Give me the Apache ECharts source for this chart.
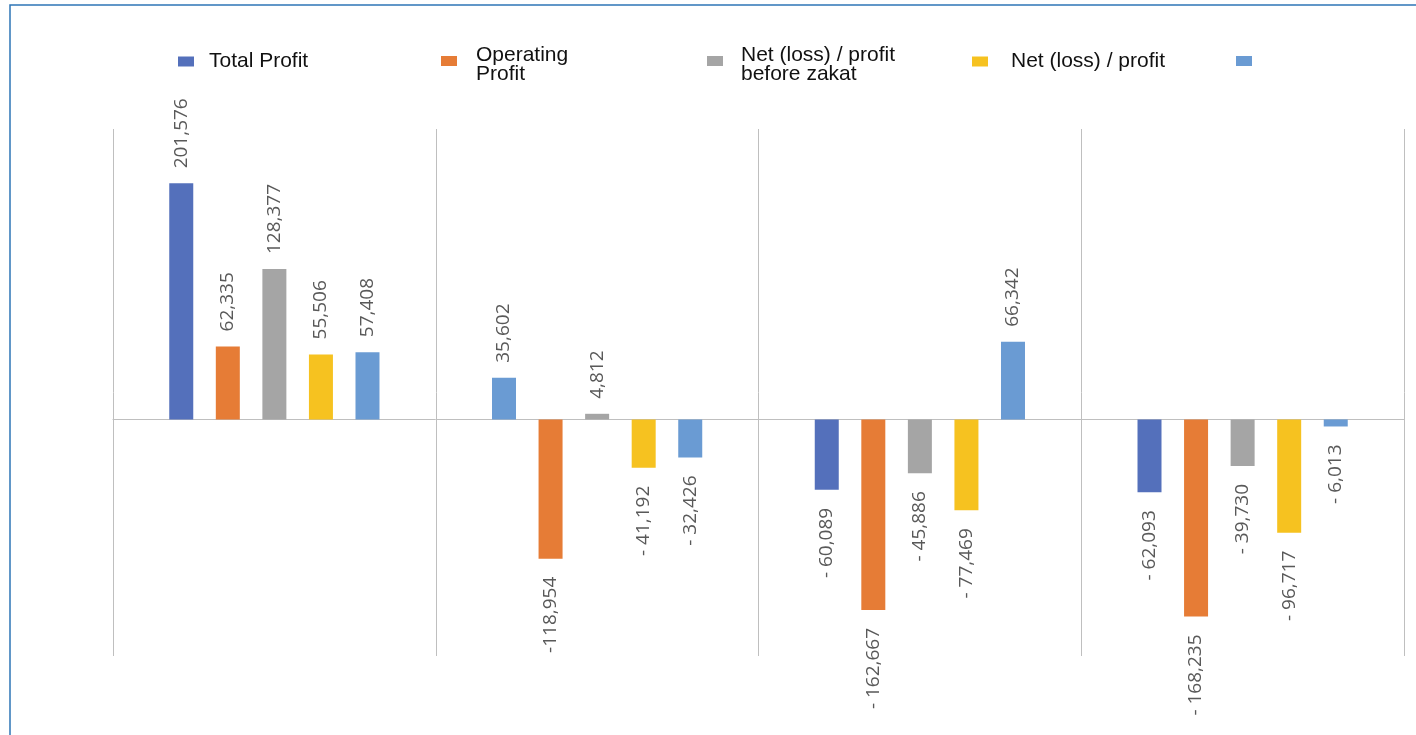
<!DOCTYPE html>
<html>
<head>
<meta charset="utf-8">
<script src="https://cdn.jsdelivr.net/npm/echarts@6/dist/echarts.min.js"></script>
<style>
  html, body { margin: 0; padding: 0; background: #ffffff; }
  #chart { width: 1416px; height: 735px; }
</style>
</head>
<body>
<div id="chart"></div>
<script>
// Periods (not labelled on the axis)
const categories = ['P1', 'P2', 'P3', 'P4'];

// Series names (the fifth series has no caption)
const seriesNames = ['Total Profit', 'Operating Profit', 'Net (loss) / profit before zakat', 'Net (loss) / profit', ' '];

// Values per series, one per period
const totalProfit     = [201576, 35602, -60089, -62093];
const operatingProfit = [62335, -118954, -162667, -168235];
const netBeforeZakat  = [128377, 4812, -45886, -39730];
const netProfit       = [55506, -41192, -77469, -96717];
const fifthSeries     = [57408, -32426, 66342, -6013];

const seriesValues = [totalProfit, operatingProfit, netBeforeZakat, netProfit, fifthSeries];

const colors = ['#5470BB', '#E67C36', '#A5A5A5', '#F6C220', '#6A9BD3'];

// Points drawn in a colour other than their series colour: [series, period, colourIndex]
const colourOverrides = [[0, 1, 4]];

// Negative labels printed without the space after the minus sign: [series, period]
const compactMinus = [[1, 1]];

function isCompact(si, di) {
  return compactMinus.some(p => p[0] === si && p[1] === di);
}

function fmt(v, si, di) {
  const s = Math.abs(v).toLocaleString('en-US');
  if (v < 0) return (isCompact(si, di) ? '-' : '- ') + s;
  return s;
}

// Legend captions; the two-line ones are set as separate text blocks
const legendCaptions = ['Total Profit', 'Operating\nProfit', 'Net (loss) / profit\nbefore zakat', 'Net (loss) / profit', ''];
const legendLayout = [
  { left: 178,  top: 51, gap: 10, twoLine: false },
  { left: 441,  top: 56, gap: 14, twoLine: true,  textX: 476, textY: 45 },
  { left: 707,  top: 56, gap: 13, twoLine: true,  textX: 741, textY: 45 },
  { left: 972,  top: 51, gap: 18, twoLine: false },
  { left: 1236, top: 56, gap: 10, twoLine: false }
];

const legendFont = { fontFamily: 'Liberation Sans', fontSize: 21, color: '#111111' };

const legends = seriesNames.map((name, i) => {
  const lay = legendLayout[i];
  const caption = lay.twoLine ? '' : legendCaptions[i];
  return {
    data: [name],
    left: lay.left,
    top: caption ? lay.top : lay.top,
    padding: 0,
    itemWidth: 16,
    itemHeight: 10,
    icon: 'rect',
    selectedMode: false,
    formatter: () => caption,
    textStyle: Object.assign({ lineHeight: 21, padding: [0, 0, 0, lay.gap] }, legendFont)
  };
});

const captionTexts = legendLayout
  .map((lay, i) => ({ lay, i }))
  .filter(o => o.lay.twoLine)
  .map(o => ({
    type: 'text',
    silent: true,
    left: o.lay.textX,
    top: o.lay.textY,
    style: Object.assign({
      text: legendCaptions[o.i],
      lineHeight: 19,
      fill: legendFont.color,
      font: legendFont.fontSize + 'px "' + legendFont.fontFamily + '"'
    })
  }));

const series = seriesValues.map((vals, si) => ({
  name: seriesNames[si],
  type: 'bar',
  barWidth: 24,
  barGap: '94%',
  itemStyle: { color: colors[si] },
  data: vals.map((v, di) => {
    const item = {
      value: v,
      label: v < 0
        ? { position: 'bottom', align: 'right', distance: 18 }
        : { position: 'top', align: 'left', distance: 15 }
    };
    const ov = colourOverrides.find(o => o[0] === si && o[1] === di);
    if (ov) item.itemStyle = { color: colors[ov[2]] };
    return item;
  }),
  label: {
    show: true,
    rotate: 90,
    verticalAlign: 'middle',
    fontFamily: 'Open Sans',
    fontSize: 19,
    color: '#595959',
    formatter: p => fmt(p.value, si, p.dataIndex)
  }
}));

const chart = echarts.init(document.getElementById('chart'), null, { renderer: 'canvas' });
chart.setOption({
  animation: false,
  backgroundColor: '#ffffff',
  legend: legends,
  grid: { left: 113, right: 12, top: 129, bottom: 79, containLabel: false },
  xAxis: {
    type: 'category',
    data: categories,
    boundaryGap: true,
    axisLine: { show: true, onZero: true, lineStyle: { color: '#BFBFBF', width: 1 } },
    axisTick: { show: false },
    axisLabel: { show: false },
    splitLine: { show: true, lineStyle: { color: '#BFBFBF', width: 1 } }
  },
  yAxis: {
    type: 'value',
    min: -202000,
    max: 248000,
    show: true,
    axisLine: { show: false },
    axisTick: { show: false },
    axisLabel: { show: false },
    splitLine: { show: false }
  },
  graphic: captionTexts.concat([{
    type: 'rect',
    silent: true,
    z: 100,
    shape: { x: 10, y: 5, width: 1420, height: 745 },
    style: { fill: 'none', stroke: '#2E75B6', lineWidth: 1.5 }
  }]),
  series: series
});
</script>
</body>
</html>
